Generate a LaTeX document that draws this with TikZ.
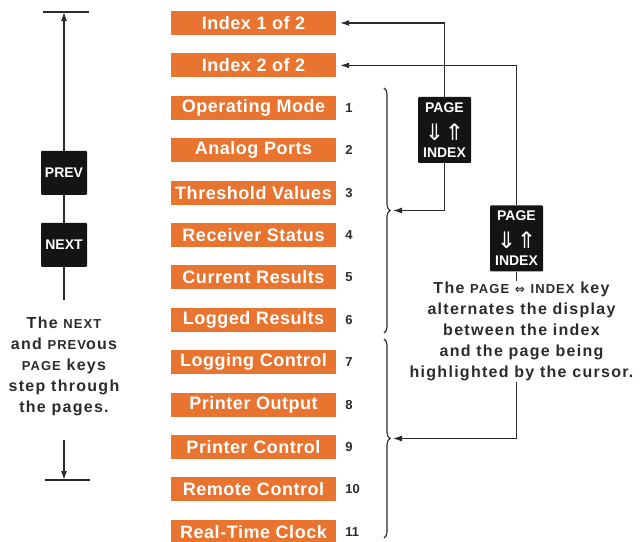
\documentclass[tikz,border=0pt]{standalone}
\usepackage{fontspec}
\usepackage{graphicx}
\setmainfont{Liberation Sans}
\newfontfamily\boxfont{Liberation Sans}[LetterSpace=3]
\newfontfamily\notefont{Liberation Sans}[LetterSpace=8]
\newfontfamily\symfont{DejaVu Sans}
\usetikzlibrary{positioning,arrows.meta,calc,decorations.pathreplacing}
\definecolor{figorange}{HTML}{E8742F}
\definecolor{figink}{HTML}{2B2B2B}
\definecolor{figkey}{HTML}{141414}
\newcommand\smc[1]{{\fontsize{13}{21}\selectfont #1}}
\newcommand\keyarrows{{\symfont\mdseries\fontsize{19}{19}\selectfont\scalebox{1.25}[1.2]{⇓⇑}}}

\begin{document}
\begin{tikzpicture}[
  x=1pt, y=1pt,
  node distance=18pt,
  pg/.style={fill=figorange, text=white, minimum width=165pt, minimum height=24pt,
             inner sep=0pt, font=\boxfont\bfseries\fontsize{18}{20}\selectfont},
  num/.style={text=figink, inner sep=0pt, label distance=9pt,
              font=\bfseries\fontsize{13}{14}\selectfont},
  key/.style={fill=figkey, text=white, rounded corners=1pt, align=center,
              inner sep=0pt, font=\bfseries\fontsize{14}{16}\selectfont},
  keyarr/.style={text=white, inner sep=0pt},
  note/.style={text=figink, align=center, inner sep=1pt,
               font=\notefont\bfseries\fontsize{16}{21}\selectfont},
  lk/.style={figink, line width=1.1pt},
  ar/.style={lk, -{Latex[length=9pt,width=6pt]}},
  brc/.style={lk, decorate, decoration={brace, amplitude=6pt}},
]
\useasboundingbox (0,0) rectangle (642,541);
% Page list
\node[pg] (idx1) at (253.5,518) {Index 1 of 2};
\node[pg, below=of idx1] (idx2) {Index 2 of 2};
\node[pg, below=of idx2, label={[num]right:1}] (opmode) {Operating Mode};
\node[pg, below=of opmode, label={[num]right:2}] (analog) {Analog Ports};
\node[pg, below=of analog, label={[num]right:3}] (thresh) {Threshold Values};
\node[pg, below=of thresh, label={[num]right:4}] (recv) {Receiver Status};
\node[pg, below=of recv, label={[num]right:5}] (curres) {Current Results};
\node[pg, below=of curres, label={[num]right:6}] (logres) {Logged Results};
\node[pg, below=of logres, label={[num]right:7}] (logctl) {Logging Control};
\node[pg, below=of logctl, label={[num]right:8}] (prnout) {Printer Output};
\node[pg, below=of prnout, label={[num]right:9}] (prnctl) {Printer Control};
\node[pg, below=of prnctl, label={[num]right:10}] (remote) {Remote Control};
\node[pg, below=of remote, label={[num]right:11}] (clock) {Real-Time Clock};
% Braces
\coordinate (b1top) at (384,453);
\coordinate (b1bot) at (384,208);
\draw[brc] (b1top) -- (b1bot);
\coordinate (b1tip) at ($(b1top)!0.5!(b1bot)+(9,0)$);
\coordinate (b2top) at (384,202);
\coordinate (b2bot) at (384,3);
\draw[brc] (b2top) -- (b2bot);
\coordinate (b2tip) at ($(b2top)!0.5!(b2bot)+(9,0)$);
% Page/index keys
\node[key, minimum width=53pt, minimum height=66pt] (key1) at (444.5,411)
  {PAGE\\[29pt]INDEX};
\node[keyarr] (key1arr) at ([yshift=-2pt]key1.center) {\keyarrows};
\node[key, minimum width=53pt, minimum height=66pt] (key2) at (516.5,302.5)
  {PAGE\\[29pt]INDEX};
\node[keyarr] (key2arr) at ([yshift=-2pt]key2.center) {\keyarrows};
\draw[ar, shorten >=4pt] (key1.north) |- (idx1.east);
\draw[ar] (key1.south) |- (b1tip);
\draw[ar, shorten >=4pt] (key2.north) |- (idx2.east);
\node[note, below=9pt of key2, xshift=5pt] (keynote)
  {The \smc{PAGE} {\symfont\fontsize{12}{21}\selectfont ⇔} \smc{INDEX} key\\
   alternates the display\\between the index\\and the page being\\
   highlighted by the cursor.};
\draw[lk] (key2.south) -- (key2.south |- keynote.north);
\draw[ar] (key2.south |- keynote.south) |- (b2tip);
% Next/prev keys
\node[key, minimum width=46pt, minimum height=44pt] (prev) at (64,368) {PREV};
\node[key, minimum width=46pt, minimum height=44pt] (next) at (64,296) {NEXT};
\coordinate (toptick) at (64,529);
\draw[ar] (prev) -- (toptick);
\draw[lk] ([xshift=-21pt]toptick) -- ([xshift=25pt]toptick);
\draw[lk] (prev) -- (next);
\coordinate (nextend) at (64,241);
\draw[lk] (next) -- (nextend);
\node[note] (pgnote) at (64,174.5)
  {The \smc{NEXT}\\and \smc{PREV}ous\\\smc{PAGE} keys\\step through\\the pages.};
\coordinate (botstart) at (64,101);
\coordinate (bottick) at (64,61);
\draw[ar] (botstart) -- (bottick);
\draw[lk] ([xshift=-19pt]bottick) -- ([xshift=26pt]bottick);
\end{tikzpicture}
\end{document}
